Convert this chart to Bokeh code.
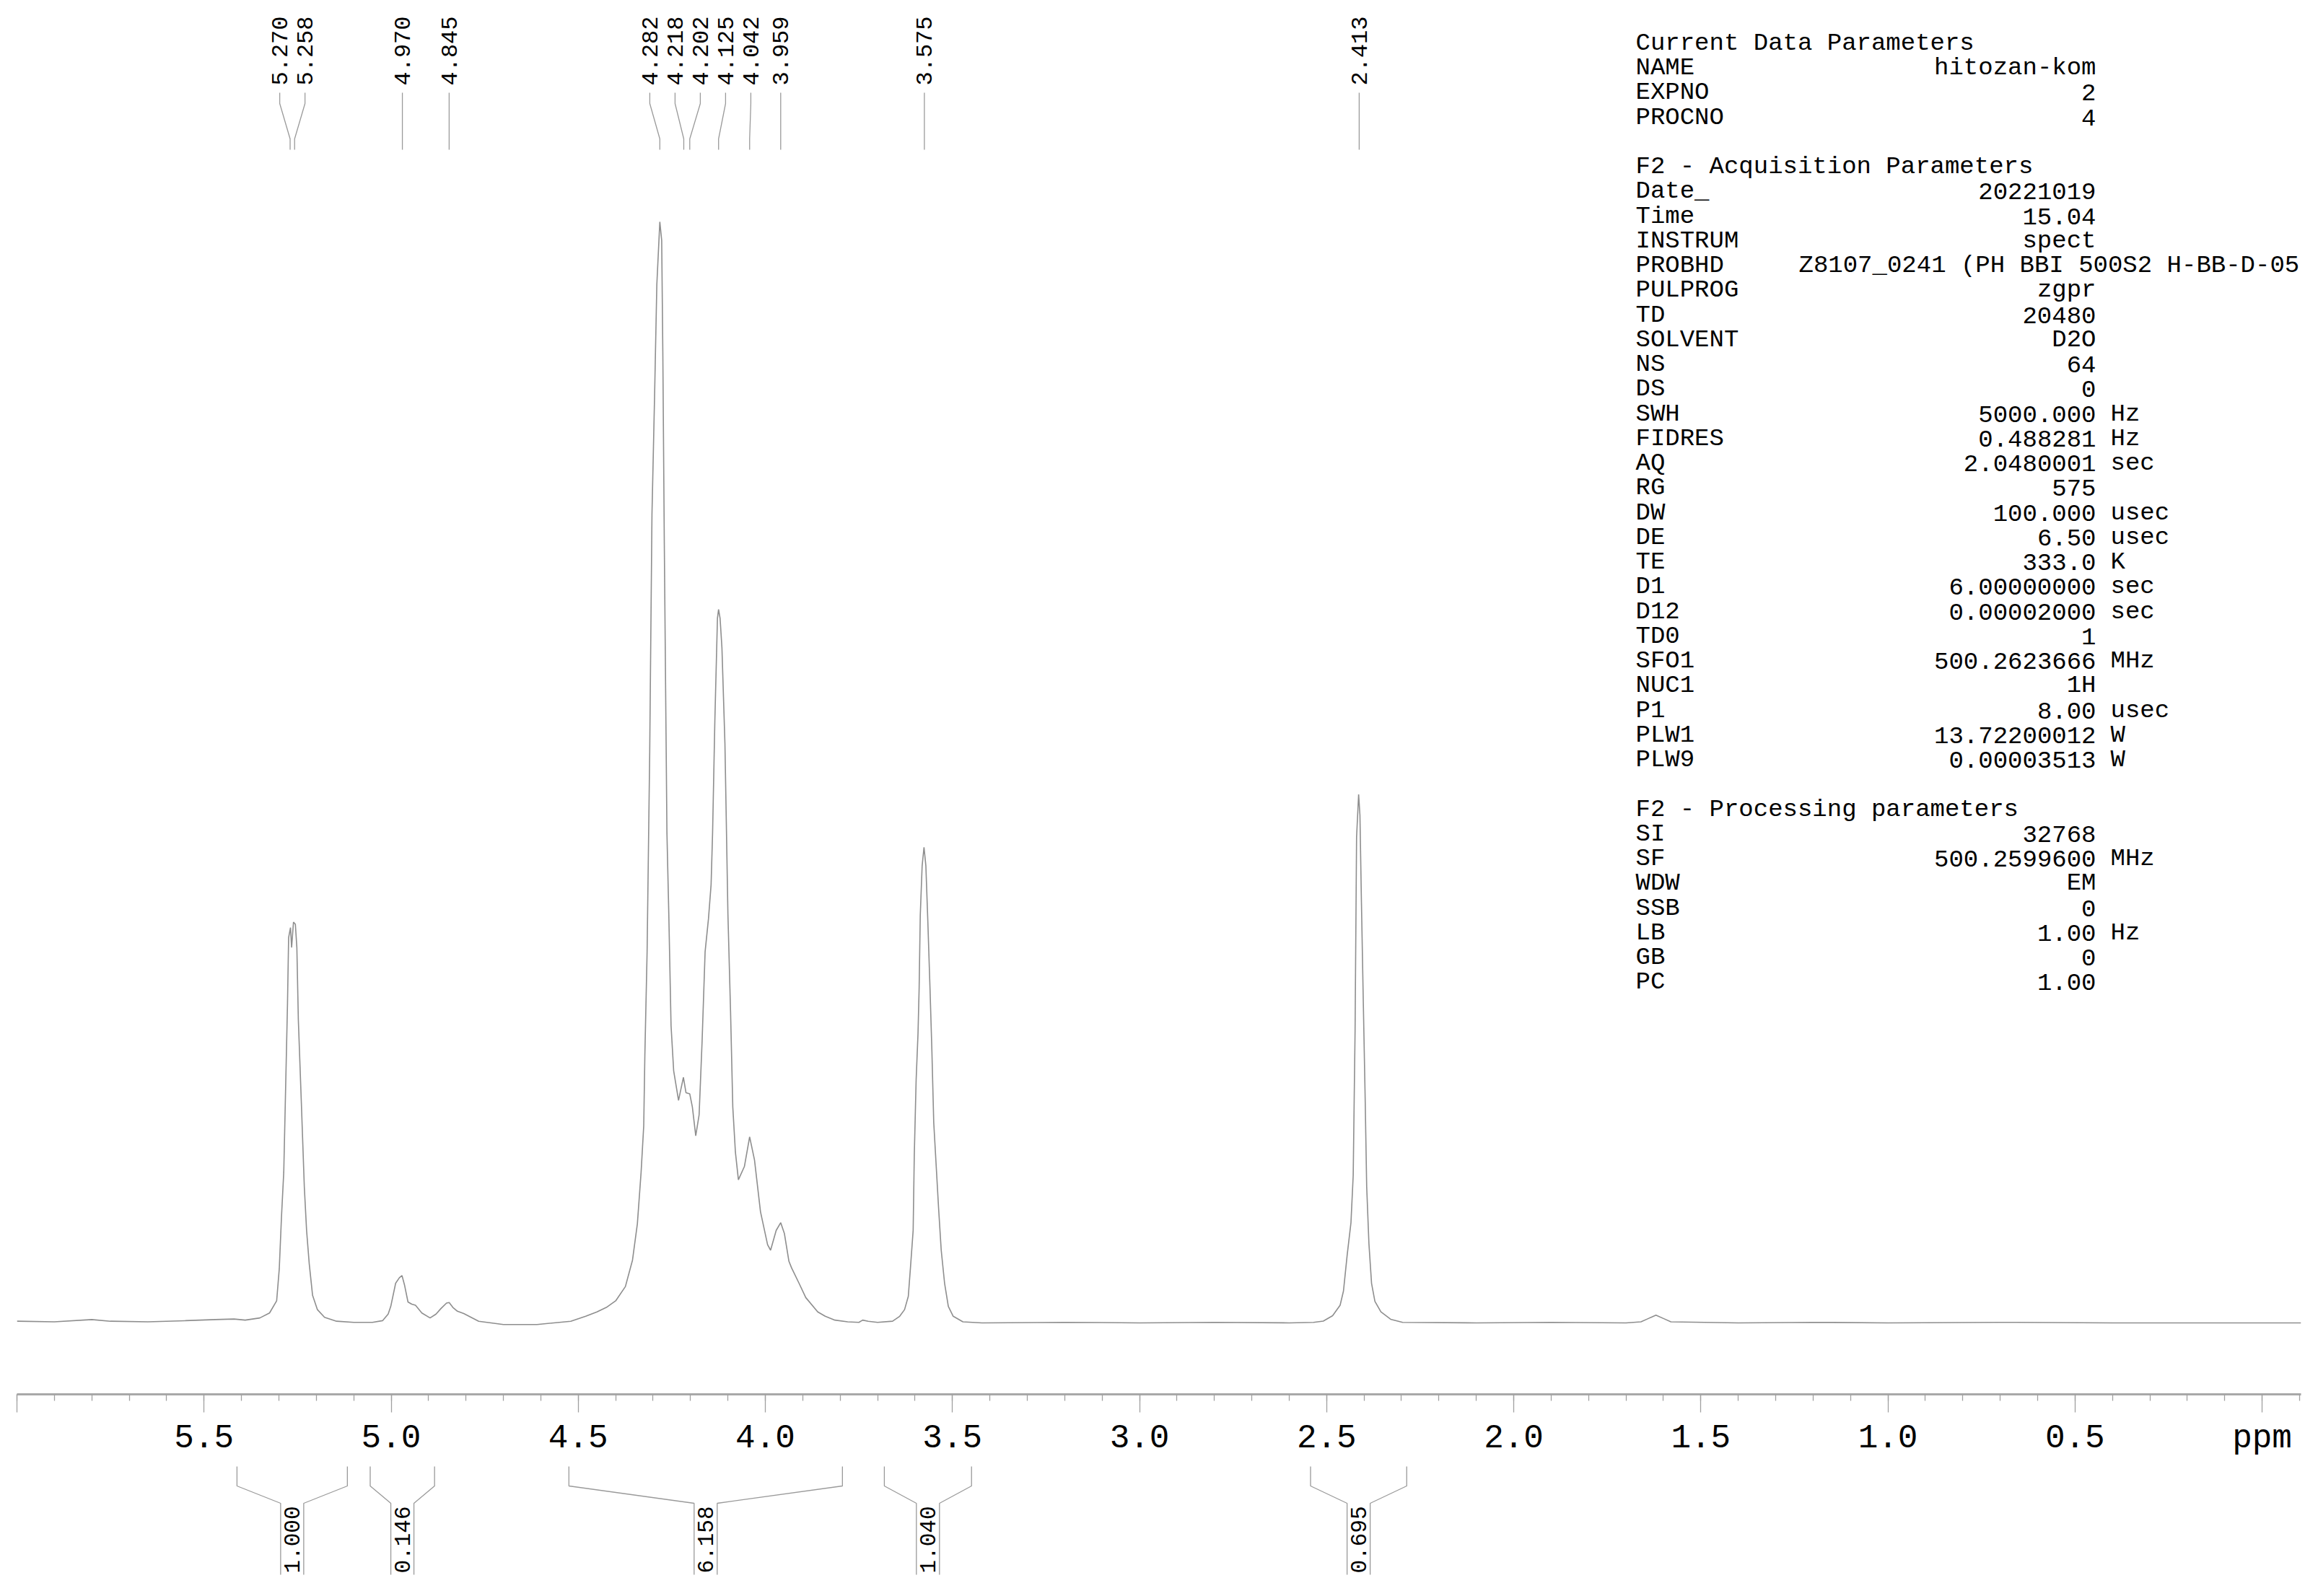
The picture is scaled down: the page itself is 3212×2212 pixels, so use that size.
import math
import numpy as np
from bokeh.plotting import figure
from bokeh.models import Range1d, FixedTicker, ColumnDataSource, LabelSet, PrintfTickFormatter
from bokeh.layouts import column
from bokeh.embed import file_html
from bokeh.resources import INLINE
from bokeh.core.properties import value

# ---------------- data ----------------
ppm = [6.000, 5.900, 5.800, 5.750, 5.650, 5.550, 5.470, 5.420, 5.390, 5.351, 5.325,
       5.306, 5.299, 5.293, 5.287, 5.283, 5.277, 5.274, 5.269, 5.266, 5.261, 5.256,
       5.252, 5.248, 5.240, 5.232, 5.226, 5.219, 5.210, 5.197, 5.178, 5.146, 5.100,
       5.050, 5.023, 5.008, 5.001, 4.988, 4.978, 4.971, 4.964, 4.955, 4.945, 4.935,
       4.918, 4.896, 4.880, 4.867, 4.852, 4.845, 4.835, 4.823, 4.806, 4.766, 4.700,
       4.610, 4.520, 4.480, 4.450, 4.425, 4.400, 4.374, 4.355, 4.342, 4.332, 4.325,
       4.322, 4.316, 4.309, 4.303, 4.296, 4.290, 4.282, 4.277, 4.274, 4.270, 4.263,
       4.258, 4.252, 4.245, 4.232, 4.219, 4.212, 4.202, 4.195, 4.186, 4.177, 4.169,
       4.161, 4.152, 4.145, 4.141, 4.135, 4.128, 4.125, 4.121, 4.116, 4.108, 4.100,
       4.093, 4.087, 4.080, 4.072, 4.056, 4.042, 4.029, 4.013, 3.994, 3.986, 3.971,
       3.959, 3.949, 3.937, 3.930, 3.910, 3.892, 3.860, 3.840, 3.814, 3.780, 3.750,
       3.740, 3.725, 3.700, 3.660, 3.641, 3.628, 3.618, 3.612, 3.605, 3.602, 3.597,
       3.592, 3.589, 3.586, 3.581, 3.576, 3.571, 3.566, 3.560, 3.555, 3.550, 3.543,
       3.537, 3.530, 3.521, 3.511, 3.498, 3.472, 3.421, 3.200, 3.000, 2.800, 2.600,
       2.535, 2.509, 2.484, 2.464, 2.455, 2.445, 2.435, 2.429, 2.424, 2.420, 2.4145,
       2.411, 2.407, 2.402, 2.397, 2.393, 2.387, 2.380, 2.371, 2.355, 2.329, 2.297,
       2.100, 1.900, 1.700, 1.660, 1.640, 1.620, 1.600, 1.580, 1.400, 1.200, 1.000,
       0.700, 0.400, 0.000, -0.104]
intensity = [0.15, 0.10, 0.30, 0.15, 0.10, 0.20, 0.30, 0.35, 0.25, 0.45, 0.9,
             2.0, 4.9, 9.7, 13.7, 19.8, 29.0, 35.0, 35.9, 34.1, 36.4, 36.2,
             34.1, 27.5, 20.0, 12.3, 8.4, 5.4, 2.5, 1.2, 0.5, 0.15, 0.05,
             0.05, 0.2, 0.8, 1.5, 3.6, 4.1, 4.3, 3.4, 1.9, 1.7, 1.6,
             0.9, 0.45, 0.8, 1.3, 1.8, 1.85, 1.4, 1.06, 0.85, 0.15, -0.15,
             -0.15, 0.15, 0.6, 1.0, 1.4, 2.0, 3.3, 5.7, 9.0, 13.7, 17.9,
             24.3, 33.7, 51.9, 73.4, 84.2, 94.3, 100.0, 98.3, 88.2, 70.7, 44.5,
             37.1, 27.0, 22.9, 20.2, 22.3, 20.9, 20.8, 19.6, 17.0, 18.9, 25.6,
             33.7, 36.7, 39.8, 44.5, 54.6, 64.0, 64.8, 64.0, 61.3, 52.6, 37.1,
             28.3, 19.6, 15.5, 13.0, 14.2, 16.9, 14.8, 10.1, 7.1, 6.6, 8.4,
             9.1, 8.1, 5.6, 5.0, 3.6, 2.3, 1.0, 0.6, 0.25, 0.1, 0.05,
             0.25, 0.15, 0.05, 0.15, 0.6, 1.2, 2.4, 5.1, 8.4, 15.2, 22.1,
             26.3, 30.4, 37.0, 41.5, 43.2, 41.5, 36.7, 30.4, 24.8, 18.2, 14.0,
             10.4, 6.6, 3.6, 1.5, 0.6, 0.1, 0.0, 0.05, 0.0, 0.05, 0.0,
             0.05, 0.16, 0.65, 1.6, 2.9, 6.2, 9.1, 13.4, 26.5, 44.1, 48.0,
             46.1, 38.2, 29.1, 20.3, 12.4, 7.2, 3.6, 1.95, 1.0, 0.33, 0.05,
             0.0, 0.05, 0.0, 0.1, 0.4, 0.7, 0.4, 0.1, 0.0, 0.05, 0.0,
             0.05, 0.0, 0.0, 0.0]

peak_ppm = [5.270, 5.258, 4.970, 4.845, 4.282, 4.218, 4.202, 4.125, 4.042, 3.959, 3.575, 2.413]
peak_labels = ["5.270", "5.258", "4.970", "4.845", "4.282", "4.218", "4.202",
               "4.125", "4.042", "3.959", "3.575", "2.413"]

integral_from = [5.412, 5.056, 4.525, 3.682, 2.543]
integral_to = [5.117, 4.884, 3.794, 3.449, 2.286]
integral_values = ["1.000", "0.146", "6.158", "1.040", "0.695"]

major_ticks = [0.0, 0.5, 1.0, 1.5, 2.0, 2.5, 3.0, 3.5, 4.0, 4.5, 5.0, 5.5, 6.0]
minor_ticks = [round(0.1 * i, 1) for i in range(-1, 61)]
tick_overrides = {0: "ppm", 6: ""}

param_keys = ["Current Data Parameters", "NAME", "EXPNO", "PROCNO", "",
              "F2 - Acquisition Parameters", "Date_", "Time", "INSTRUM", "PROBHD",
              "PULPROG", "TD", "SOLVENT", "NS", "DS", "SWH", "FIDRES", "AQ", "RG",
              "DW", "DE", "TE", "D1", "D12", "TD0", "SFO1", "NUC1", "P1", "PLW1",
              "PLW9", "", "F2 - Processing parameters", "SI", "SF", "WDW", "SSB",
              "LB", "GB", "PC"]
param_values = ["", "hitozan-kom", "2", "4", "",
                "", "20221019", "15.04", "spect", "Z8107_0241 (PH BBI 500S2 H-BB-D-05",
                "zgpr", "20480", "D2O", "64", "0", "5000.000", "0.488281", "2.0480001", "575",
                "100.000", "6.50", "333.0", "6.00000000", "0.00002000", "1", "500.2623666", "1H", "8.00", "13.72200012",
                "0.00003513", "", "", "32768", "500.2599600", "EM", "0",
                "1.00", "0", "1.00"]
param_units = ["", "", "", "", "",
               "", "", "", "", "",
               "", "", "", "", "", "Hz", "Hz", "sec", "",
               "usec", "usec", "K", "sec", "sec", "", "MHz", "", "usec", "W",
               "W", "", "", "", "MHz", "", "",
               "Hz", "", ""]

# ---------------- layout ----------------
W = 3204
TOP_H = 2024
BOT_H = 180
BL, BR = 23, 16
BT = 8
BOTTOM_BORDER = 92
FRAME_W = W - BL - BR
FRAME_H = TOP_H - BOTTOM_BORDER - BT
X_START, X_END = 6.0, -0.104
PX_PER_PPM = FRAME_W / (X_START - X_END)

LINE_GREY = "#8e8e8e"
MARK_GREY = "#9a9a9a"
MONO = value("Liberation Mono")

p = figure(width=W, height=TOP_H, output_backend="svg", toolbar_location=None,
           x_range=Range1d(X_START, X_END), y_range=Range1d(-6.49, 119.59),
           min_border_left=BL, min_border_right=BR, min_border_top=BT,
           min_border_bottom=BOTTOM_BORDER, y_axis_location=None)
p.extra_y_ranges = {"px": Range1d(FRAME_H, 0)}
p.extra_x_ranges = {"pxx": Range1d(0, FRAME_W)}
p.grid.visible = False
p.outline_line_color = None
p.background_fill_color = "white"
p.border_fill_color = "white"

ax = p.xaxis[0]
ax.ticker = FixedTicker(ticks=major_ticks, minor_ticks=minor_ticks)
ax.formatter = PrintfTickFormatter(format="%.1f")
ax.major_label_overrides = tick_overrides
ax.axis_line_color = "#a8a8a8"
ax.axis_line_width = 3
ax.major_tick_line_color = "#a0a0a0"
ax.major_tick_line_width = 1.3
ax.minor_tick_line_color = "#a0a0a0"
ax.minor_tick_line_width = 1.3
ax.major_tick_in = 0
ax.major_tick_out = 25
ax.minor_tick_in = 0
ax.minor_tick_out = 9
ax.major_label_standoff = 10
ax.major_label_text_font = "Liberation Mono"
ax.major_label_text_font_size = "46px"
ax.major_label_text_color = "black"

# spectrum
p.line(ppm, intensity, line_color=LINE_GREY, line_width=1.6)

# peak labels: spread labels with a minimum spacing, grouped clusters centred on their peaks
gap = 35 / PX_PER_PPM
clusters = [[v] for v in peak_ppm]

def cluster_labels(c):
    c_mid = sum(c) / len(c)
    n = len(c)
    return [c_mid + gap * (n - 1) / 2 - gap * i for i in range(n)]

merged = True
while merged:
    merged = False
    for i in range(len(clusters) - 1):
        if cluster_labels(clusters[i])[-1] - cluster_labels(clusters[i + 1])[0] < gap:
            clusters[i] = clusters[i] + clusters[i + 1]
            del clusters[i + 1]
            merged = True
            break
label_pos = [v for c in clusters for v in cluster_labels(c)]

lead_xs = [[lx, lx, pk, pk] for lx, pk in zip(label_pos, peak_ppm)]
lead_ys = [[120, 135, 184, 199] for _ in peak_ppm]
p.multi_line(lead_xs, lead_ys, line_color=MARK_GREY, line_width=1.3, y_range_name="px")
p.text(x=label_pos, y=[110] * len(label_pos), text=peak_labels, angle=math.pi / 2,
       text_align="left", text_baseline="middle", text_font=MONO,
       text_font_size="32px", text_color="black", y_range_name="px")

# parameter block
KEY_X, VAL_RIGHT, UNIT_X, LONG_X = 2243, 2881, 2901, 2469
row_y = [51.4 + 34.25 * i for i in range(len(param_keys))]
key_src = ColumnDataSource(dict(x=[KEY_X] * len(param_keys), y=row_y, t=param_keys))
short_idx = [i for i, v in enumerate(param_values) if v and len(v) <= 23]
long_idx = [i for i, v in enumerate(param_values) if len(v) > 23]
unit_idx = [i for i, u in enumerate(param_units) if u]
val_src = ColumnDataSource(dict(x=[VAL_RIGHT] * len(short_idx), y=[row_y[i] for i in short_idx],
                                t=[param_values[i] for i in short_idx]))
long_src = ColumnDataSource(dict(x=[LONG_X] * len(long_idx), y=[row_y[i] for i in long_idx],
                                 t=[param_values[i] for i in long_idx]))
unit_src = ColumnDataSource(dict(x=[UNIT_X] * len(unit_idx), y=[row_y[i] for i in unit_idx],
                                 t=[param_units[i] for i in unit_idx]))
for src, align in [(key_src, "left"), (val_src, "right"), (long_src, "left"), (unit_src, "left")]:
    p.add_layout(LabelSet(source=src, x="x", y="y", text="t", x_range_name="pxx",
                          y_range_name="px", text_align=align, text_baseline="middle",
                          text_font=MONO, text_font_size="34px", text_color="black"))

# ---------------- integral strip ----------------
b = figure(width=W, height=BOT_H, output_backend="svg", toolbar_location=None,
           x_range=p.x_range, y_range=Range1d(BOT_H, 0),
           min_border_left=BL, min_border_right=BR, min_border_top=0, min_border_bottom=0,
           x_axis_location=None, y_axis_location=None)
b.grid.visible = False
b.outline_line_color = None
b.background_fill_color = "white"
b.border_fill_color = "white"

hw = 16 / PX_PER_PPM
int_xs, int_ys, mids = [], [], []
for a, z in zip(integral_from, integral_to):
    mid = (a + z) / 2
    mids.append(mid)
    int_xs.append([a, a, mid + hw, mid + hw])
    int_ys.append([8, 35, 59, 158])
    int_xs.append([z, z, mid - hw, mid - hw])
    int_ys.append([8, 35, 59, 158])
b.multi_line(int_xs, int_ys, line_color=MARK_GREY, line_width=1.3)
b.text(x=mids, y=[156] * len(mids), text=integral_values, angle=math.pi / 2,
       text_align="left", text_baseline="middle", text_font=MONO,
       text_font_size="31px", text_color="black")

layout = column(p, b, spacing=0)
open("out.html", "w").write(file_html(layout, INLINE))
